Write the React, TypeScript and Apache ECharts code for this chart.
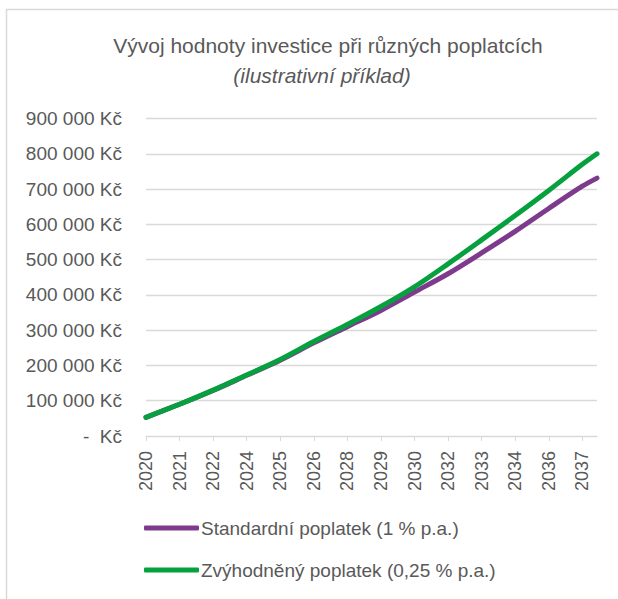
import React, { useEffect, useRef } from 'react';
import * as echarts from 'echarts';

const titleText = 'Vývoj hodnoty investice při různých poplatcích';
const subtitleText = '(ilustrativní příklad)';
const seriesNames = ['Standardní poplatek (1 % p.a.)', 'Zvýhodněný poplatek (0,25 % p.a.)'];
const seriesColors = ['#7E3B8E', '#06A03F'];

const startYear = 2020;
const endYear = 2037;

// values at the labelled months (plus the last month)
const sampleMonths = [
  '2020-01', '2021-05', '2022-09', '2024-01', '2025-05', '2026-09', '2028-01',
  '2029-05', '2030-09', '2032-01', '2033-05', '2034-09', '2036-01', '2037-05', '2037-12',
];
const standardValues = [
  53000, 90000, 129000, 172000, 215000, 264000, 310000,
  356000, 408000, 460000, 519000, 580000, 645000, 708000, 731000,
];
const reducedValues = [
  53000, 90000, 130000, 173000, 217000, 268000, 316000,
  367000, 423000, 488000, 556000, 625000, 696000, 770000, 800000,
];

const yMin = 0;
const yMax = 900000;
const yInterval = 100000;

const months: string[] = [];
for (let y = startYear; y <= endYear; y++) {
  for (let m = 1; m <= 12; m++) months.push(`${y}-${String(m).padStart(2, '0')}`);
}

const fmtKc = (v: number) =>
  v === 0 ? '-\u00a0\u00a0Kč' : String(v).replace(/\B(?=(\d{3})+(?!\d))/g, ' ') + ' Kč';

const FONT = '"Liberation Sans", Arial, sans-serif';
const TXT = '#595959';

export default function App() {
  const ref = useRef<HTMLDivElement>(null);
  useEffect(() => {
    if (!ref.current) return;
    const chart = echarts.init(ref.current, undefined, { renderer: 'svg' });
    chart.setOption({
      animation: false,
      backgroundColor: '#ffffff',
      textStyle: { fontFamily: FONT },
      graphic: [
        {
          type: 'rect',
          shape: { x: 6.5, y: 9.5, width: 700, height: 700 },
          style: { fill: 'none', stroke: '#d9d9d9', lineWidth: 1.5 },
          silent: true,
          z: -1,
        },
        {
          type: 'text',
          x: 328,
          y: 45,
          silent: true,
          style: {
            text: titleText,
            fontFamily: FONT,
            fontSize: 21,
            fill: TXT,
            align: 'center',
            verticalAlign: 'middle',
          },
        },
        {
          type: 'text',
          x: 322,
          y: 75,
          silent: true,
          style: {
            text: subtitleText,
            fontFamily: FONT,
            fontSize: 21,
            fontStyle: 'italic',
            fill: TXT,
            align: 'center',
            verticalAlign: 'middle',
          },
        },
      ],
      legend: {
        orient: 'vertical',
        left: 139,
        top: 512,
        itemWidth: 55,
        itemHeight: 5,
        itemGap: 20,
        icon: 'roundRect',
        textStyle: { fontFamily: FONT, fontSize: 19, color: TXT, lineHeight: 22, padding: [0, 0, 0, -3] },
        data: seriesNames,
      },
      grid: { left: 146, right: 21, top: 118.5, bottom: 163, containLabel: false },
      xAxis: {
        type: 'category',
        data: months,
        boundaryGap: false,
        axisLine: { lineStyle: { color: '#d9d9d9', width: 1 } },
        axisTick: { show: true, interval: 15, length: 5, lineStyle: { color: '#d9d9d9' } },
        axisLabel: {
          interval: 15,
          rotate: 90,
          margin: 15,
          color: TXT,
          fontSize: 18,
          fontFamily: FONT,
          formatter: (v: string) => v.slice(0, 4),
        },
        splitLine: { show: false },
      },
      yAxis: {
        type: 'value',
        min: yMin,
        max: yMax,
        interval: yInterval,
        axisLine: { show: false },
        axisTick: { show: false },
        axisLabel: { color: TXT, fontSize: 19, fontFamily: FONT, margin: 24, formatter: fmtKc },
        splitLine: { lineStyle: { color: '#d9d9d9', width: 1.3 } },
      },
      series: [
        {
          name: seriesNames[0],
          type: 'line',
          data: sampleMonths.map((m, i) => [m, standardValues[i]]),
          symbol: 'none',
          smooth: 0.3,
          color: seriesColors[0],
          lineStyle: { width: 5, color: seriesColors[0], cap: 'round', join: 'round' },
          z: 2,
        },
        {
          name: seriesNames[1],
          type: 'line',
          data: sampleMonths.map((m, i) => [m, reducedValues[i]]),
          symbol: 'none',
          smooth: 0.3,
          color: seriesColors[1],
          lineStyle: { width: 5, color: seriesColors[1], cap: 'round', join: 'round' },
          z: 3,
        },
      ],
    });
    return () => chart.dispose();
  }, []);
  return (
    <div
      ref={ref}
      style={{ position: 'fixed', left: 0, top: 0, width: 618, height: 599, background: '#fff' }}
    />
  );
}
